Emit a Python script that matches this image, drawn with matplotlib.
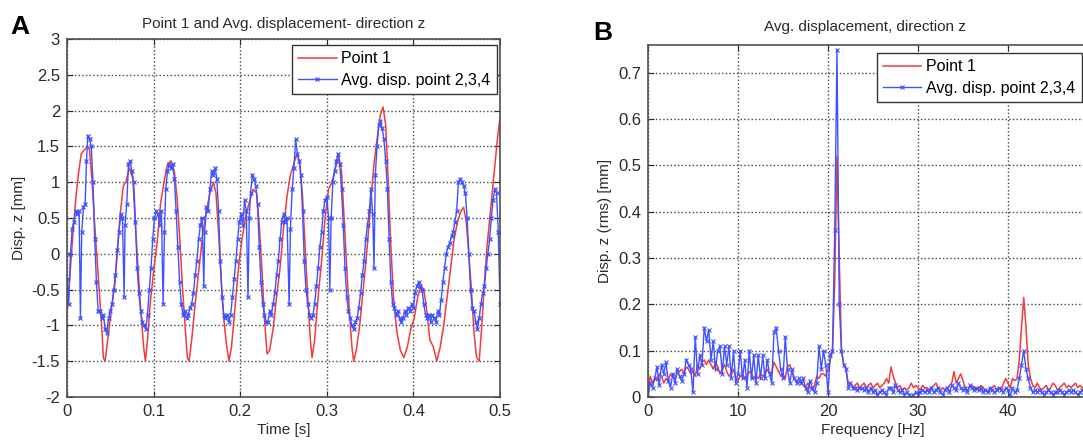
import numpy as np
import matplotlib.pyplot as plt

plt.rcParams['font.family'] = ['Liberation Sans', 'DejaVu Sans']

# ---- Panel A: time signals (t [s], disp [mm]) ----
t_p1 = [0.000, 0.004, 0.007, 0.010, 0.013, 0.0165, 0.020, 0.024, 0.026, 0.029,
        0.032, 0.036, 0.040, 0.042, 0.044, 0.047, 0.051, 0.055, 0.058, 0.061,
        0.065, 0.068, 0.072, 0.076, 0.079, 0.082, 0.085, 0.0885, 0.0905, 0.093,
        0.096, 0.100, 0.104, 0.108, 0.112, 0.116, 0.120, 0.124, 0.127, 0.130,
        0.133, 0.136, 0.139, 0.141, 0.144, 0.148, 0.153, 0.157, 0.161, 0.165,
        0.169, 0.172, 0.175, 0.178, 0.181, 0.184, 0.187, 0.190, 0.194, 0.198,
        0.202, 0.206, 0.210, 0.215, 0.219, 0.222, 0.225, 0.228, 0.231, 0.234,
        0.238, 0.242, 0.246, 0.250, 0.254, 0.258, 0.263, 0.266, 0.269, 0.272,
        0.275, 0.278, 0.281, 0.283, 0.286, 0.290, 0.294, 0.298, 0.302, 0.306,
        0.310, 0.314, 0.317, 0.320, 0.323, 0.326, 0.329, 0.331, 0.334, 0.338,
        0.342, 0.346, 0.350, 0.354, 0.358, 0.362, 0.365, 0.368, 0.371, 0.374,
        0.377, 0.381, 0.385, 0.389, 0.393, 0.397, 0.401, 0.405, 0.409, 0.412,
        0.415, 0.419, 0.423, 0.427, 0.431, 0.435, 0.439, 0.443, 0.447, 0.451,
        0.455, 0.458, 0.461, 0.464, 0.467, 0.470, 0.473, 0.476, 0.479, 0.482,
        0.485, 0.489, 0.493, 0.497, 0.500]
z_p1 = [-0.85, -0.2, 0.3, 0.75, 1.1, 1.4, 1.45, 1.5, 1.45, 1.0,
        0.4, -0.3, -1.0, -1.45, -1.5, -1.2, -0.8, -0.45, 0.0, 0.5,
        0.95, 1.0, 1.2, 1.05, 0.4, -0.2, -0.75, -1.3, -1.5, -1.2,
        -0.7, -0.25, 0.15, 0.7, 1.0, 1.25, 1.3, 1.15, 0.8, 0.25,
        -0.4, -0.95, -1.45, -1.5, -1.2, -0.7, -0.15, 0.3, 0.6, 0.85,
        1.0, 0.85, 0.3, -0.35, -0.9, -1.25, -1.5, -1.3, -0.75, -0.2,
        0.2, 0.5, 0.7, 0.9, 0.85, 0.4, -0.2, -0.9, -1.4, -1.35,
        -1.05, -0.6, -0.2, 0.35, 0.8, 1.1, 1.3, 1.4, 1.25, 0.8,
        0.1, -0.6, -1.2, -1.45, -1.2, -0.6, -0.1, 0.5, 0.9, 1.0,
        1.2, 1.35, 1.15, 0.5, -0.2, -0.8, -1.3, -1.5, -1.35, -1.0,
        -0.5, 0.0, 0.6, 1.2, 1.6, 1.95, 2.05, 1.8, 1.0, 0.1,
        -0.6, -1.1, -1.35, -1.45, -1.3, -1.05, -0.9, -0.6, -0.45, -0.5,
        -0.75, -1.2, -1.3, -1.5, -1.3, -1.0, -0.6, -0.2, 0.2, 0.45,
        0.6, 0.65, 0.45, 0.0, -0.5, -1.1, -1.45, -1.5, -1.0, -0.4,
        0.1, 0.6, 1.1, 1.6, 1.9]

t_avg = [0.000, 0.002, 0.004, 0.006, 0.008, 0.010, 0.012, 0.014, 0.0155, 0.017,
         0.019, 0.021, 0.0225, 0.024, 0.026, 0.028, 0.030, 0.032, 0.034, 0.036,
         0.038, 0.040, 0.042, 0.044, 0.046, 0.048, 0.050, 0.052, 0.054, 0.056,
         0.058, 0.060, 0.062, 0.064, 0.066, 0.067, 0.069, 0.071, 0.073, 0.075,
         0.077, 0.079, 0.081, 0.083, 0.085, 0.087, 0.089, 0.091, 0.093, 0.095,
         0.097, 0.099, 0.101, 0.103, 0.105, 0.107, 0.109, 0.111, 0.1125, 0.114,
         0.116, 0.118, 0.120, 0.122, 0.124, 0.126, 0.128, 0.130, 0.132, 0.134,
         0.136, 0.138, 0.140, 0.142, 0.144, 0.146, 0.148, 0.150, 0.152, 0.154,
         0.156, 0.158, 0.159, 0.161, 0.163, 0.165, 0.167, 0.169, 0.171, 0.173,
         0.175, 0.177, 0.179, 0.181, 0.183, 0.185, 0.187, 0.189, 0.191, 0.193,
         0.195, 0.197, 0.199, 0.201, 0.203, 0.205, 0.207, 0.209, 0.2105, 0.212,
         0.214, 0.216, 0.218, 0.220, 0.222, 0.224, 0.226, 0.228, 0.230, 0.232,
         0.234, 0.236, 0.238, 0.240, 0.242, 0.244, 0.246, 0.248, 0.250, 0.252,
         0.254, 0.2565, 0.258, 0.260, 0.262, 0.264, 0.266, 0.268, 0.270, 0.272,
         0.274, 0.276, 0.278, 0.280, 0.282, 0.284, 0.286, 0.288, 0.290, 0.292,
         0.294, 0.296, 0.298, 0.300, 0.302, 0.3035, 0.305, 0.307, 0.309, 0.311,
         0.313, 0.315, 0.317, 0.319, 0.321, 0.323, 0.325, 0.327, 0.329, 0.331,
         0.333, 0.335, 0.337, 0.339, 0.341, 0.343, 0.345, 0.347, 0.349, 0.351,
         0.353, 0.3545, 0.356, 0.358, 0.360, 0.362, 0.364, 0.366, 0.368, 0.370,
         0.372, 0.374, 0.376, 0.378, 0.380, 0.382, 0.384, 0.386, 0.388, 0.390,
         0.392, 0.394, 0.396, 0.398, 0.400, 0.402, 0.404, 0.406, 0.408, 0.410,
         0.412, 0.414, 0.416, 0.418, 0.420, 0.422, 0.424, 0.426, 0.428, 0.430,
         0.432, 0.434, 0.436, 0.438, 0.440, 0.442, 0.444, 0.446, 0.448, 0.450,
         0.452, 0.454, 0.456, 0.458, 0.460, 0.462, 0.464, 0.466, 0.468, 0.470,
         0.472, 0.474, 0.476, 0.478, 0.480, 0.482, 0.484, 0.486, 0.488, 0.490,
         0.492, 0.494, 0.496, 0.498, 0.500]
z_avg = [-0.35, -0.7, 0.0, 0.35, 0.45, 0.6, 0.55, 0.6, -0.9, 0.3,
         0.65, 0.7, 1.3, 1.65, 1.6, 1.5, 1.0, 0.2, -0.4, -0.8,
         -0.8, -0.9, -0.85, -1.05, -1.1, -0.9, -0.8, -0.7, -0.5, -0.3,
         0.05, 0.3, 0.55, 0.5, -0.6, 0.4, 0.7, 1.25, 1.3, 1.15,
         1.0, 0.45, -0.2, -0.55, -0.8, -0.95, -1.0, -1.05, -0.85, -0.5,
         -0.2, 0.2, 0.5, 0.6, 0.55, 0.4, 0.6, -0.7, 0.3, 0.9,
         1.15, 1.25, 1.2, 1.25, 1.05, 0.6, 0.1, -0.4, -0.7, -0.85,
         -0.8, -0.9, -0.85, -0.75, -0.7, -0.55, -0.3, -0.1, 0.2, 0.4,
         0.5, -0.45, 0.3, 0.65, 0.6, 0.9, 1.15, 1.1, 1.2, 1.05,
         0.6, -0.1, -0.6, -0.85, -0.9, -0.85, -0.95, -0.85, -0.6, -0.35,
         -0.1, 0.2, 0.45, 0.55, 0.4, 0.75, 0.6, -0.6, 0.5, 0.85,
         1.1, 1.05, 0.95, 0.7, 0.1, -0.4, -0.7, -0.85, -0.95, -0.95,
         -0.8, -0.85, -0.7, -0.55, -0.3, -0.1, 0.2, 0.45, 0.55, 0.45,
         0.5, -0.7, 0.35, 0.9, 1.2, 1.6, 1.4, 1.3, 1.1, 0.6,
         -0.1, -0.5, -0.7, -0.85, -0.9, -0.85, -0.7, -0.45, -0.2, 0.1,
         0.3, 0.6, 0.75, 0.8, 0.5, -0.5, 0.5, 1.0, 1.15, 1.3,
         1.4, 1.25, 0.9, 0.4, -0.2, -0.6, -0.8, -0.9, -1.0, -1.05,
         -0.95, -0.9, -0.75, -0.55, -0.3, -0.1, 0.2, 0.4, 0.6, 0.9,
         0.55, -0.2, 1.1, 1.5, 1.8, 1.85, 1.75, 1.6, 1.3, 0.9,
         0.2, -0.4, -0.7, -0.75, -0.85, -0.8, -0.9, -0.95, -0.9, -0.8,
         -0.85, -0.75, -0.8, -0.7, -0.75, -0.55, -0.45, -0.4, -0.45, -0.5,
         -0.7, -0.85, -0.9, -0.85, -0.95, -0.85, -0.9, -0.95, -0.8, -0.85,
         -0.65, -0.4, -0.2, 0.0, 0.1, 0.15, 0.25, 0.3, 0.45, 0.6,
         1.0, 1.05, 1.0, 0.95, 0.85, 0.5, 0.0, -0.5, -0.75, -0.8,
         -0.95, -1.05, -0.9, -0.7, -0.55, -0.45, -0.2, 0.0, 0.2, 0.5,
         0.75, 0.9, 0.85, 0.3, -0.7]

# ---- Panel B: spectra, 0.25 Hz bins from 0 to 50 Hz ----
freq = np.arange(0, 50.01, 0.25)
rms_p1 = [0.005, 0.045, 0.03, 0.04,
          0.035, 0.05, 0.045, 0.03,
          0.04, 0.035, 0.05, 0.045,
          0.04, 0.05, 0.055, 0.06,
          0.05, 0.065, 0.06, 0.05,
          0.055, 0.045, 0.07, 0.06,
          0.075, 0.08, 0.07, 0.08,
          0.07, 0.06, 0.075, 0.065,
          0.05, 0.06, 0.07, 0.055,
          0.045, 0.05, 0.06, 0.04,
          0.035, 0.045, 0.05, 0.04,
          0.045, 0.055, 0.05, 0.04,
          0.045, 0.04, 0.05, 0.045,
          0.05, 0.06, 0.05, 0.055,
          0.075, 0.065, 0.055, 0.045,
          0.05, 0.04, 0.065, 0.07,
          0.055, 0.04, 0.035, 0.03,
          0.035, 0.025, 0.02, 0.03,
          0.02, 0.015, 0.025, 0.045,
          0.04, 0.05, 0.05, 0.045,
          0.06, 0.08, 0.1, 0.25,
          0.52, 0.3, 0.1, 0.07,
          0.06, 0.03, 0.03, 0.02,
          0.025, 0.03, 0.02, 0.025,
          0.03, 0.02, 0.025, 0.03,
          0.02, 0.025, 0.03, 0.02,
          0.025, 0.03, 0.04, 0.03,
          0.065, 0.045, 0.03, 0.02,
          0.025, 0.015, 0.02, 0.015,
          0.02, 0.03, 0.02, 0.025,
          0.02, 0.015, 0.025, 0.02,
          0.02, 0.015, 0.02, 0.025,
          0.03, 0.02, 0.015, 0.02,
          0.015, 0.02, 0.025, 0.03,
          0.055, 0.03, 0.04, 0.05,
          0.035, 0.02, 0.015, 0.02,
          0.025, 0.02, 0.015, 0.02,
          0.025, 0.02, 0.015, 0.01,
          0.015, 0.02, 0.025, 0.015,
          0.02, 0.015, 0.03, 0.04,
          0.03, 0.02, 0.04, 0.035,
          0.04, 0.08, 0.15, 0.215,
          0.15, 0.07, 0.04, 0.025,
          0.02, 0.03, 0.02, 0.015,
          0.02, 0.025, 0.015, 0.02,
          0.03, 0.025, 0.015, 0.02,
          0.025, 0.03, 0.02, 0.025,
          0.02, 0.025, 0.03, 0.02,
          0.025, 0.02, 0.015, 0.02,
          0.025, 0.02, 0.015, 0.02,
          0.02]
rms_avg = [0.0, 0.03, 0.02, 0.04,
           0.065, 0.025, 0.07, 0.05,
           0.075, 0.035, 0.02, 0.05,
           0.03, 0.06, 0.045, 0.035,
           0.05, 0.08, 0.07, 0.06,
           0.01, 0.13, 0.05, 0.09,
           0.07, 0.15, 0.12, 0.145,
           0.08, 0.12, 0.06, 0.1,
           0.11, 0.05, 0.11, 0.07,
           0.11, 0.04, 0.1, 0.03,
           0.05, 0.1, 0.04, 0.08,
           0.02, 0.1, 0.04, 0.09,
           0.03, 0.09, 0.04, 0.09,
           0.04, 0.08, 0.05, 0.03,
           0.14, 0.15, 0.1, 0.06,
           0.04, 0.13, 0.06, 0.03,
           0.06, 0.04, 0.03, 0.04,
           0.03, 0.04, 0.02, 0.01,
           0.035, 0.02, 0.01, 0.03,
           0.11, 0.06, 0.1, 0.07,
           0.01, 0.09, 0.1, 0.36,
           0.75, 0.2, 0.1, 0.07,
           0.06, 0.02, 0.03, 0.02,
           0.02, 0.015, 0.02, 0.02,
           0.015, 0.02, 0.01, 0.02,
           0.01, 0.015, 0.005, 0.01,
           0.015, 0.01, 0.005, 0.02,
           0.02, 0.01, 0.025, 0.015,
           0.01, 0.015, 0.005, 0.01,
           0.005, 0.0, 0.005, 0.01,
           0.005, 0.01, 0.015, 0.01,
           0.015, 0.01, 0.02, 0.01,
           0.015, 0.02, 0.01, 0.005,
           0.015, 0.02, 0.01, 0.025,
           0.02, 0.015, 0.03, 0.02,
           0.015, 0.02, 0.01, 0.025,
           0.02, 0.015, 0.02, 0.015,
           0.02, 0.01, 0.015, 0.01,
           0.02, 0.015, 0.01, 0.015,
           0.02, 0.015, 0.01, 0.02,
           0.015, 0.0, 0.02, 0.01,
           0.015, 0.04, 0.07, 0.1,
           0.06, 0.04, 0.02, 0.01,
           0.015, 0.01, 0.015, 0.01,
           0.005, 0.01, 0.015, 0.01,
           0.005, 0.01, 0.01, 0.015,
           0.01, 0.005, 0.01, 0.015,
           0.01, 0.015, 0.01, 0.005,
           0.01, 0.015, 0.01, 0.015,
           0.01, 0.005, 0.01, 0.015,
           0.01]

RED = '#f03c3c'
BLUE = '#3f52ff'
TXT = '#2a2a2a'


def matlab_style(ax):
    ax.grid(True, linestyle=':', color='#444444', linewidth=1.0)
    ax.set_axisbelow(True)
    ax.tick_params(direction='in', top=True, right=True, length=4,
                   labelsize=12, colors=TXT, pad=5)
    for s in ax.spines.values():
        s.set_color('#505050')
        s.set_linewidth(1.2)


legend_kw = dict(loc='upper right', borderaxespad=0, fontsize=11.5,
                 fancybox=False, edgecolor='#333333', framealpha=1,
                 handlelength=2.4, handletextpad=0.3, labelspacing=0.4,
                 borderpad=0.4)

fig = plt.figure(figsize=(10.83, 4.42), dpi=100)

# Panel A
axA = fig.add_axes([67 / 1083, 45 / 442, 433 / 1083, 358 / 442])
axA.plot(t_p1, z_p1, color=RED, lw=1.1, label='Point 1')
axA.plot(t_avg, z_avg, color=BLUE, lw=1.0, marker='x', ms=3, mew=0.9,
         label='Avg. disp. point 2,3,4')
axA.set_xlim(0, 0.5)
axA.set_ylim(-2, 3)
axA.set_xticks([0, 0.1, 0.2, 0.3, 0.4, 0.5])
axA.set_xticklabels(['0', '0.1', '0.2', '0.3', '0.4', '0.5'])
axA.set_yticks([-2, -1.5, -1, -0.5, 0, 0.5, 1, 1.5, 2, 2.5, 3])
axA.set_yticklabels(['-2', '-1.5', '-1', '-0.5', '0', '0.5', '1', '1.5', '2', '2.5', '3'])
matlab_style(axA)
axA.set_xlabel('Time [s]', fontsize=11, color=TXT, labelpad=3)
axA.set_ylabel('Disp. z [mm]', fontsize=11, color=TXT, labelpad=4)
axA.set_title('Point 1 and Avg. displacement- direction z', fontsize=11,
              color=TXT, pad=8)
axA.legend(bbox_to_anchor=(0.993, 0.983), **legend_kw)

# Panel B (right part is cut off by the figure edge, like the original)
axB = fig.add_axes([648 / 1083, 45 / 442, 450 / 1083, 352 / 442])
axB.plot(freq, rms_p1, color=RED, lw=1.1, label='Point 1')
axB.plot(freq, rms_avg, color=BLUE, lw=1.0, marker='x', ms=2.5, mew=0.8,
         label='Avg. disp. point 2,3,4')
axB.set_xlim(0, 50)
axB.set_ylim(0, 0.76)
axB.set_xticks([0, 10, 20, 30, 40])
axB.set_yticks([0, 0.1, 0.2, 0.3, 0.4, 0.5, 0.6, 0.7])
axB.set_yticklabels(['0', '0.1', '0.2', '0.3', '0.4', '0.5', '0.6', '0.7'])
matlab_style(axB)
axB.set_xlabel('Frequency [Hz]', fontsize=11, color=TXT, labelpad=3)
axB.set_ylabel('Disp. z (rms) [mm]', fontsize=11, color=TXT, labelpad=4)
axB.text((865 - 648) / 450, 1.05, 'Avg. displacement, direction z',
         transform=axB.transAxes, ha='center', va='center', fontsize=11,
         color=TXT)
axB.legend(bbox_to_anchor=(0.964, 0.977), **legend_kw)

# panel letters
fig.text(10 / 1083, 1 - 34 / 442, 'A', fontsize=19, fontweight='bold',
         ha='left', va='baseline')
fig.text(593 / 1083, 1 - 40 / 442, 'B', fontsize=19, fontweight='bold',
         ha='left', va='baseline')

fig.savefig('out.png', dpi=100)
